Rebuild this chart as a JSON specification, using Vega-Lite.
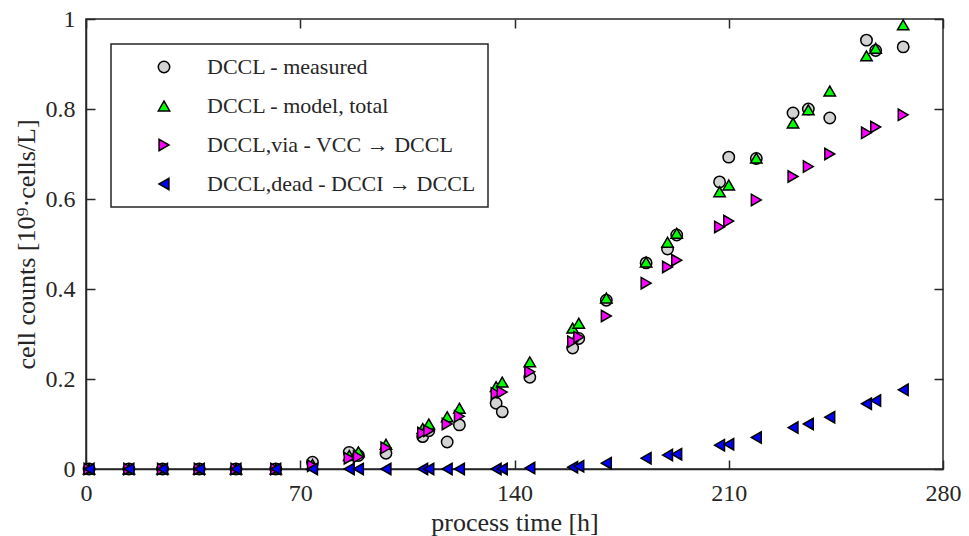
{
  "$schema": "https://vega.github.io/schema/vega-lite/v6.json",
  "autosize": "none",
  "width": 857,
  "height": 450,
  "padding": {"left": 86, "top": 19, "right": 26, "bottom": 67},
  "background": "white",
  "config": {
    "font": "Liberation Serif",
    "view": {"stroke": "#262626", "strokeWidth": 1.5},
    "axis": {
      "labelFont": "Liberation Serif",
      "labelFontSize": 24,
      "labelColor": "#262626",
      "labelFlush": false,
      "titleFont": "Liberation Serif",
      "titleFontSize": 26,
      "titleFontWeight": "normal",
      "titleColor": "#262626",
      "domainColor": "#262626",
      "domainWidth": 1.5,
      "tickColor": "#262626",
      "tickWidth": 1.5,
      "tickSize": -9,
      "grid": false
    },
    "legend": {
      "orient": "top-left",
      "offset": 25,
      "strokeColor": "#262626",
      "strokeWidth": 1.5,
      "fillColor": "white",
      "padding": 12,
      "labelFont": "Liberation Serif",
      "labelFontSize": 22,
      "labelColor": "#262626",
      "symbolSize": 130,
      "symbolStrokeColor": "black",
      "symbolStrokeWidth": 1.5,
      "rowPadding": 17,
      "symbolOffset": 30,
      "labelOffset": 32,
      "labelLimit": 400
    }
  },
  "data": {
    "values": [
      {"t": 1, "v": 0, "s": "M"}, {"t": 14, "v": 0, "s": "M"}, {"t": 25, "v": 0, "s": "M"}, {"t": 37, "v": 0, "s": "M"},
      {"t": 49, "v": 0, "s": "M"}, {"t": 62, "v": 0, "s": "M"}, {"t": 74, "v": 0.015, "s": "M"}, {"t": 86, "v": 0.037, "s": "M"},
      {"t": 89, "v": 0.03, "s": "M"}, {"t": 98, "v": 0.035, "s": "M"}, {"t": 110, "v": 0.072, "s": "M"}, {"t": 112, "v": 0.085, "s": "M"},
      {"t": 118, "v": 0.06, "s": "M"}, {"t": 122, "v": 0.098, "s": "M"}, {"t": 134, "v": 0.146, "s": "M"}, {"t": 136, "v": 0.127, "s": "M"},
      {"t": 145, "v": 0.204, "s": "M"}, {"t": 159, "v": 0.269, "s": "M"}, {"t": 161, "v": 0.29, "s": "M"}, {"t": 170, "v": 0.375, "s": "M"},
      {"t": 183, "v": 0.458, "s": "M"}, {"t": 190, "v": 0.489, "s": "M"}, {"t": 193, "v": 0.52, "s": "M"}, {"t": 207, "v": 0.638, "s": "M"},
      {"t": 210, "v": 0.693, "s": "M"}, {"t": 219, "v": 0.69, "s": "M"}, {"t": 231, "v": 0.791, "s": "M"}, {"t": 236, "v": 0.8, "s": "M"},
      {"t": 243, "v": 0.78, "s": "M"}, {"t": 255, "v": 0.953, "s": "M"}, {"t": 258, "v": 0.93, "s": "M"}, {"t": 267, "v": 0.938, "s": "M"},

      {"t": 1, "v": 0, "s": "G"}, {"t": 14, "v": 0, "s": "G"}, {"t": 25, "v": 0, "s": "G"}, {"t": 37, "v": 0, "s": "G"},
      {"t": 49, "v": 0, "s": "G"}, {"t": 62, "v": 0, "s": "G"}, {"t": 74, "v": 0.01, "s": "G"}, {"t": 86, "v": 0.03, "s": "G"},
      {"t": 89, "v": 0.038, "s": "G"}, {"t": 98, "v": 0.055, "s": "G"}, {"t": 110, "v": 0.09, "s": "G"}, {"t": 112, "v": 0.1, "s": "G"},
      {"t": 118, "v": 0.116, "s": "G"}, {"t": 122, "v": 0.135, "s": "G"}, {"t": 134, "v": 0.183, "s": "G"}, {"t": 136, "v": 0.193, "s": "G"},
      {"t": 145, "v": 0.238, "s": "G"}, {"t": 159, "v": 0.313, "s": "G"}, {"t": 161, "v": 0.324, "s": "G"}, {"t": 170, "v": 0.38, "s": "G"},
      {"t": 183, "v": 0.46, "s": "G"}, {"t": 190, "v": 0.504, "s": "G"}, {"t": 193, "v": 0.524, "s": "G"}, {"t": 207, "v": 0.616, "s": "G"},
      {"t": 210, "v": 0.631, "s": "G"}, {"t": 219, "v": 0.691, "s": "G"}, {"t": 231, "v": 0.769, "s": "G"}, {"t": 236, "v": 0.798, "s": "G"},
      {"t": 243, "v": 0.84, "s": "G"}, {"t": 255, "v": 0.918, "s": "G"}, {"t": 258, "v": 0.935, "s": "G"}, {"t": 267, "v": 0.987, "s": "G"},

      {"t": 1, "v": 0, "s": "V"}, {"t": 14, "v": 0, "s": "V"}, {"t": 25, "v": 0, "s": "V"}, {"t": 37, "v": 0, "s": "V"},
      {"t": 49, "v": 0, "s": "V"}, {"t": 62, "v": 0, "s": "V"}, {"t": 74, "v": 0.007, "s": "V"}, {"t": 86, "v": 0.024, "s": "V"},
      {"t": 89, "v": 0.027, "s": "V"}, {"t": 98, "v": 0.047, "s": "V"}, {"t": 110, "v": 0.08, "s": "V"}, {"t": 112, "v": 0.085, "s": "V"},
      {"t": 118, "v": 0.1, "s": "V"}, {"t": 122, "v": 0.117, "s": "V"}, {"t": 134, "v": 0.168, "s": "V"}, {"t": 136, "v": 0.171, "s": "V"},
      {"t": 145, "v": 0.216, "s": "V"}, {"t": 159, "v": 0.283, "s": "V"}, {"t": 161, "v": 0.293, "s": "V"}, {"t": 170, "v": 0.34, "s": "V"},
      {"t": 183, "v": 0.413, "s": "V"}, {"t": 190, "v": 0.449, "s": "V"}, {"t": 193, "v": 0.464, "s": "V"}, {"t": 207, "v": 0.538, "s": "V"},
      {"t": 210, "v": 0.551, "s": "V"}, {"t": 219, "v": 0.598, "s": "V"}, {"t": 231, "v": 0.65, "s": "V"}, {"t": 236, "v": 0.672, "s": "V"},
      {"t": 243, "v": 0.7, "s": "V"}, {"t": 255, "v": 0.747, "s": "V"}, {"t": 258, "v": 0.76, "s": "V"}, {"t": 267, "v": 0.787, "s": "V"},

      {"t": 1, "v": 0, "s": "D"}, {"t": 14, "v": 0, "s": "D"}, {"t": 25, "v": 0, "s": "D"}, {"t": 37, "v": 0, "s": "D"},
      {"t": 49, "v": 0, "s": "D"}, {"t": 62, "v": 0, "s": "D"}, {"t": 74, "v": 0, "s": "D"}, {"t": 86, "v": 0, "s": "D"},
      {"t": 89, "v": 0, "s": "D"}, {"t": 98, "v": 0, "s": "D"}, {"t": 110, "v": 0, "s": "D"}, {"t": 112, "v": 0, "s": "D"},
      {"t": 118, "v": 0, "s": "D"}, {"t": 122, "v": 0, "s": "D"}, {"t": 134, "v": 0, "s": "D"}, {"t": 136, "v": 0, "s": "D"},
      {"t": 145, "v": 0.002, "s": "D"}, {"t": 159, "v": 0.004, "s": "D"}, {"t": 161, "v": 0.006, "s": "D"}, {"t": 170, "v": 0.013, "s": "D"},
      {"t": 183, "v": 0.024, "s": "D"}, {"t": 190, "v": 0.031, "s": "D"}, {"t": 193, "v": 0.033, "s": "D"}, {"t": 207, "v": 0.053, "s": "D"},
      {"t": 210, "v": 0.055, "s": "D"}, {"t": 219, "v": 0.07, "s": "D"}, {"t": 231, "v": 0.092, "s": "D"}, {"t": 236, "v": 0.1, "s": "D"},
      {"t": 243, "v": 0.115, "s": "D"}, {"t": 255, "v": 0.145, "s": "D"}, {"t": 258, "v": 0.152, "s": "D"}, {"t": 267, "v": 0.176, "s": "D"}
    ]
  },
  "resolve": {"axis": {"x": "independent", "y": "independent"}},
  "layer": [
    {
      "mark": {"type": "point", "filled": true, "stroke": "black", "strokeWidth": 1.5, "size": 130, "opacity": 1},
      "encoding": {
        "x": {
          "field": "t", "type": "quantitative",
          "scale": {"domain": [0, 280], "nice": false, "zero": false},
          "axis": {"values": [0, 70, 140, 210, 280], "title": "process time [h]", "labelPadding": 21, "titlePadding": 4}
        },
        "y": {
          "field": "v", "type": "quantitative",
          "scale": {"domain": [0, 1], "nice": false},
          "axis": {"values": [0, 0.2, 0.4, 0.6, 0.8, 1], "format": ".1~f", "title": "cell counts [10⁹·cells/L]", "labelPadding": 20, "titlePadding": 6}
        },
        "color": {
          "field": "s", "type": "nominal",
          "scale": {"domain": ["M", "G", "V", "D"], "range": ["#d3d3d3", "#00ff00", "#ff00ff", "#0000ff"]},
          "legend": {
            "title": null,
            "labelExpr": "datum.label == 'M' ? 'DCCL - measured' : datum.label == 'G' ? 'DCCL - model, total' : datum.label == 'V' ? 'DCCL,via - VCC → DCCL' : 'DCCL,dead - DCCI → DCCL'"
          }
        },
        "shape": {
          "field": "s", "type": "nominal",
          "scale": {"domain": ["M", "G", "V", "D"], "range": ["circle", "triangle-up", "triangle-right", "triangle-left"]},
          "legend": {
            "title": null,
            "labelExpr": "datum.label == 'M' ? 'DCCL - measured' : datum.label == 'G' ? 'DCCL - model, total' : datum.label == 'V' ? 'DCCL,via - VCC → DCCL' : 'DCCL,dead - DCCI → DCCL'"
          }
        }
      }
    },
    {
      "mark": {"type": "point", "opacity": 0},
      "encoding": {
        "x": {
          "field": "t", "type": "quantitative",
          "axis": {"orient": "top", "values": [0, 70, 140, 210, 280], "labels": false, "title": null, "domain": false}
        },
        "y": {
          "field": "v", "type": "quantitative",
          "axis": {"orient": "right", "values": [0, 0.2, 0.4, 0.6, 0.8, 1], "labels": false, "title": null, "domain": false}
        }
      }
    }
  ]
}
